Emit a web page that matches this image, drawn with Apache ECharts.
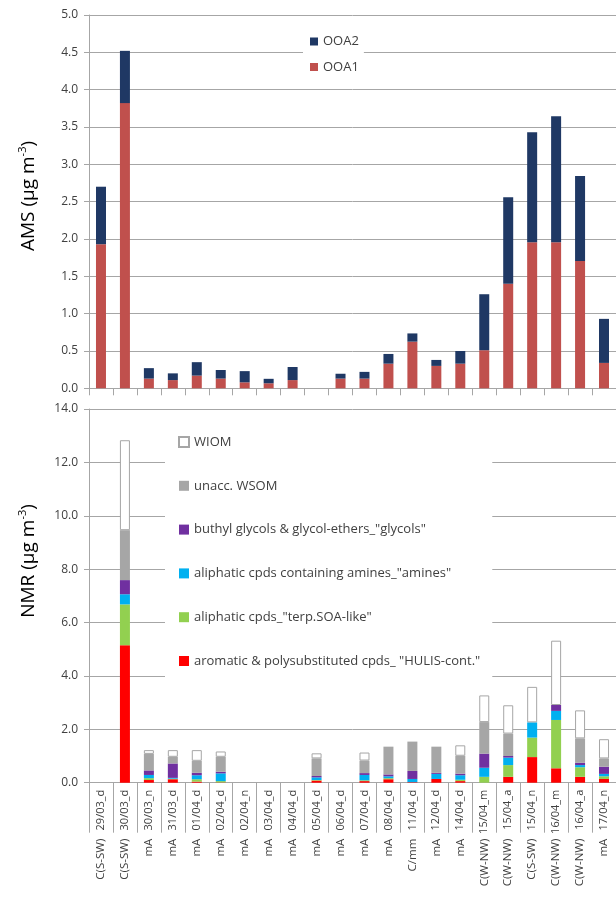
<!DOCTYPE html>
<html><head><meta charset="utf-8">
<script src="https://cdn.jsdelivr.net/npm/echarts@6/dist/echarts.min.js"></script>
<style>html,body{margin:0;padding:0;background:#fff}#c{width:616px;height:897px}</style>
</head><body><div id="c"></div><script>
// categories (two-level labels)
const sites = ['C(S-SW)','C(S-SW)','mA','mA','mA','mA','mA','mA','mA','mA','mA','mA','mA','C/mm','mA','mA','C(W-NW)','C(W-NW)','C(S-SW)','C(W-NW)','C(W-NW)','mA'];
const dates = ['29/03_d','30/03_d','30/03_n','31/03_d','01/04_d','02/04_d','02/04_n','03/04_d','04/04_d','05/04_d','06/04_d','07/04_d','08/04_d','11/04_d','12/04_d','14/04_d','15/04_m','15/04_a','15/04_n','16/04_m','16/04_a','17/04_n'];
// AMS (µg m-3)
const ooa1 = [1.93,3.82,0.13,0.11,0.17,0.13,0.08,0.067,0.11,null,0.13,0.13,0.33,0.625,0.30,0.33,0.51,1.40,1.955,1.955,1.705,0.34];
const ooa2 = [0.77,0.70,0.14,0.09,0.18,0.115,0.15,0.06,0.175,null,0.065,0.09,0.13,0.11,0.08,0.17,0.75,1.16,1.475,1.69,1.14,0.59];
// NMR (µg m-3)
const aromatic = [null,5.15,0.10,0.13,0.04,0.01,null,null,null,0.08,null,0.06,0.13,0.02,0.14,0.06,null,0.22,0.96,0.54,0.22,0.14];
const terp     = [null,1.53,0.07,0.02,0.09,0.05,null,null,null,0.02,null,0.03,0.04,null,null,0.05,0.22,0.44,0.73,1.81,0.36,0.10];
const amines   = [null,0.38,0.12,0.03,0.15,0.29,null,null,null,0.10,null,0.20,0.07,0.12,0.19,0.17,0.34,0.28,0.57,0.34,0.08,0.09];
const glycols  = [null,0.53,0.17,0.54,0.09,0.06,null,null,null,0.05,null,0.07,0.07,0.30,0.04,0.06,0.53,0.06,null,0.22,0.09,0.27];
const unacc    = [null,1.87,0.62,0.25,0.45,0.56,null,null,null,0.66,null,0.47,1.04,1.10,0.98,0.67,1.18,0.84,null,null,0.91,0.31];
const wiom     = [null,3.37,0.14,0.25,0.40,0.20,null,null,null,0.19,null,0.30,null,null,null,0.39,1.00,1.06,1.33,2.41,1.05,0.72];
// axis settings
const amsMax = 5, amsStep = 0.5, nmrMax = 14, nmrStep = 2;

const FONT = '"Open Sans", sans-serif';
const GRID_C = '#a6a6a6', TXT = '#404040';
const chart = echarts.init(document.getElementById('c'));

const nmrNames = ['aromatic & polysubstituted cpds_ "HULIS-cont."','aliphatic cpds_"terp.SOA-like"','aliphatic cpds containing amines_"amines"','buthyl glycols & glycol-ethers_"glycols"','unacc. WSOM','WIOM'];
const nmrData = [aromatic, terp, amines, glycols, unacc, wiom];
const nmrColors = ['#ff0000','#92d050','#00b0f0','#7030a0','#a6a6a6','#ffffff'];

function yAxis(gi, max, step){
  return {type:'value', gridIndex:gi, min:0, max:max, interval:step,
    axisLine:{show:true, lineStyle:{color:GRID_C}},
    axisTick:{show:true, inside:false, length:5, lineStyle:{color:GRID_C}},
    axisLabel:{formatter:v=>v.toFixed(1), fontFamily:FONT, fontSize:12, color:TXT, margin:11},
    splitLine:{show:true, lineStyle:{color:GRID_C, width:1}}};
}

const series = [
  {name:'OOA1', type:'bar', stack:'ams', xAxisIndex:0, yAxisIndex:0, data:ooa1, barWidth:10, itemStyle:{color:'#c0504d'}},
  {name:'OOA2', type:'bar', stack:'ams', xAxisIndex:0, yAxisIndex:0, data:ooa2, barWidth:10, itemStyle:{color:'#1f3864'}}
];
nmrNames.forEach((n,i)=>{
  series.push({name:n, type:'bar', stack:'nmr', xAxisIndex:1, yAxisIndex:1, data:nmrData[i], barWidth:10,
    itemStyle: i===5 ? {color:'#ffffff', borderColor:'#a6a6a6', borderWidth:1} : {color:nmrColors[i]}});
});

const option = {
  animation:false,
  backgroundColor:'#fff',
  grid:[
    {left:89, top:15, width:531, height:373.3},
    {left:89, top:409, width:531, height:373.7}
  ],
  xAxis:[
    {type:'category', gridIndex:0, data:dates, boundaryGap:true,
      axisLine:{lineStyle:{color:GRID_C}}, axisTick:{show:true, length:7, interval:0, lineStyle:{color:GRID_C}},
      axisLabel:{show:false}},
    {type:'category', gridIndex:1, data:dates, boundaryGap:true,
      axisLine:{lineStyle:{color:GRID_C}}, axisTick:{show:true, length:50, interval:0, lineStyle:{color:GRID_C}},
      axisLabel:{show:true, interval:0, rotate:90, margin:7, color:TXT, fontFamily:FONT, fontSize:11,
        formatter:(v,i)=>'{p|'+sites[i]+'}{g|}{d|'+v+'}',
        rich:{p:{width:62, align:'right', fontFamily:FONT, fontSize:11.5, color:TXT},
              g:{width:5},
              d:{width:44, align:'right', fontFamily:FONT, fontSize:11, color:TXT}}}}
  ],
  yAxis:[yAxis(0, amsMax, amsStep), yAxis(1, nmrMax, nmrStep)],
  legend:[
    {data:['OOA2','OOA1'], orient:'vertical', left:303, top:27.5, padding:[6,5,6,7],
      backgroundColor:'#fff', itemWidth:8, itemHeight:8, itemGap:9.5, icon:'rect',
      textStyle:{fontFamily:FONT, fontSize:13, color:TXT, lineHeight:16}},
    {data:nmrNames.slice().reverse(), orient:'vertical', left:165, top:423, padding:[10,12,12,13],
      backgroundColor:'#fff', itemWidth:10, itemHeight:10, itemGap:25.8, icon:'rect',
      textStyle:{fontFamily:FONT, fontSize:13, color:TXT, lineHeight:18}}
  ],
  graphic:[
    {type:'text', x:29, y:196, rotation:Math.PI/2,
      style:{text:'{n|AMS (µg m}{s|-3}{n|)}', align:'center', verticalAlign:'middle',
        rich:{n:{fontFamily:FONT, fontSize:19, color:'#262626', lineHeight:24},
              s:{fontFamily:FONT, fontSize:11, color:'#262626', lineHeight:12, verticalAlign:'top'}}}},
    {type:'text', x:29, y:561, rotation:Math.PI/2,
      style:{text:'{n|NMR (µg m}{s|-3}{n|)}', align:'center', verticalAlign:'middle',
        rich:{n:{fontFamily:FONT, fontSize:19, color:'#262626', lineHeight:24},
              s:{fontFamily:FONT, fontSize:11, color:'#262626', lineHeight:12, verticalAlign:'top'}}}}
  ],
  series:series
};
chart.setOption(option);
</script></body></html>
